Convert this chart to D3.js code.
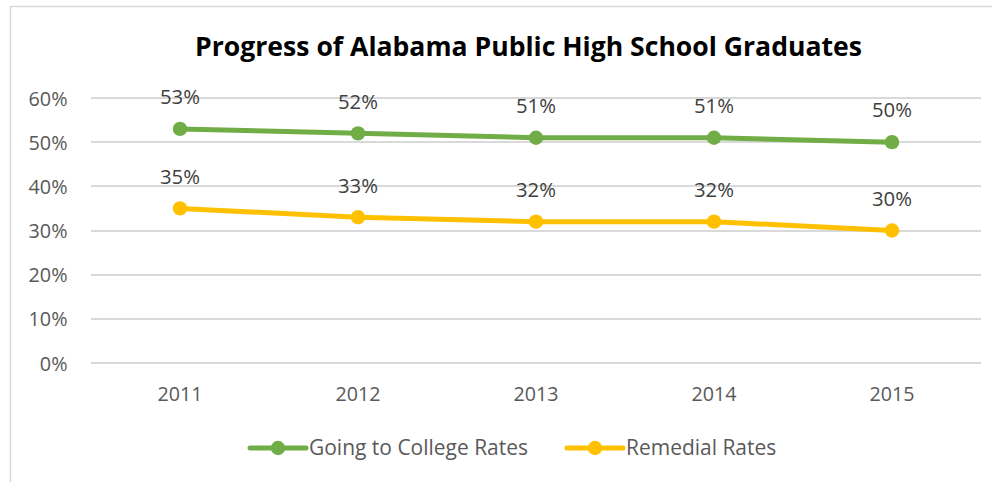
<!DOCTYPE html>
<html>
<head>
<meta charset="utf-8">
<script src="https://cdn.jsdelivr.net/npm/d3@7"></script>
<style>
  html, body { margin: 0; padding: 0; background: #fff; }
  svg { display: block; font-family: "Open Sans", Lato, sans-serif; }
</style>
</head>
<body>
<svg id="chart" width="992" height="482"></svg>
<script>
const title = "Progress of Alabama Public High School Graduates";
const years = ["2011", "2012", "2013", "2014", "2015"];
const seriesNames = ["Going to College Rates", "Remedial Rates"];
const collegeRates = [53, 52, 51, 51, 50];
const remedialRates = [35, 33, 32, 32, 30];
const yTicks = [0, 10, 20, 30, 40, 50, 60];
const colors = ["#70ad47", "#ffc000"];

const series = [
  { name: seriesNames[0], values: collegeRates, color: colors[0] },
  { name: seriesNames[1], values: remedialRates, color: colors[1] }
];

const svg = d3.select("#chart");
const W = 992, H = 482;

// scale a text selection's font size so that its first node has the target width
function fit(sel, target) {
  const n = sel.node();
  const fs = parseFloat(getComputedStyle(n).fontSize);
  const w = n.getComputedTextLength();
  sel.style("font-size", (fs * target / w).toFixed(2) + "px");
}

// chart border (only left & top visible in reference)
svg.append("rect").attr("x", 10.5).attr("y", 6.5).attr("width", W + 20).attr("height", H + 20)
  .attr("fill", "#fff").attr("stroke", "#d9d9d9").attr("stroke-width", 1.5);

const plot = { left: 91, right: 981, top: 98, bottom: 363 };

const x = d3.scaleBand().domain(years).range([plot.left, plot.right]);
const y = d3.scaleLinear().domain([0, 60]).range([plot.bottom, plot.top]);
const cx = i => x(years[i]) + x.bandwidth() / 2;

// gridlines
svg.append("g").selectAll("line").data(yTicks).join("line")
  .attr("x1", plot.left).attr("x2", plot.right)
  .attr("y1", d => Math.round(y(d))).attr("y2", d => Math.round(y(d)))
  .attr("stroke", "#d9d9d9").attr("stroke-width", 2);

// y axis
const yAxis = svg.append("g").attr("transform", `translate(67.5,0)`)
  .call(d3.axisLeft(y).tickValues(yTicks).tickFormat(d => d + "%").tickSize(0).tickPadding(0));
yAxis.select(".domain").remove();
yAxis.selectAll("text").attr("fill", "#595959").attr("x", 0).attr("dy", null).attr("y", 7)
  .style("font-family", "'Open Sans', sans-serif").style("font-size", "20px");
fit(yAxis.selectAll("text").filter(d => d === 60), 39);
yAxis.selectAll("text").style("font-size", yAxis.selectAll("text").filter(d => d === 60).style("font-size"));

// x axis
const xAxis = svg.append("g").attr("transform", `translate(0,${plot.bottom})`)
  .call(d3.axisBottom(x).tickSize(0).tickPadding(0));
xAxis.select(".domain").remove();
xAxis.selectAll("text").attr("fill", "#595959").attr("dy", null).attr("y", 37.7)
  .style("font-family", "'Open Sans', sans-serif").style("font-size", "20px");
fit(xAxis.selectAll("text").filter((d, i) => i === 0), 45);
xAxis.selectAll("text").style("font-size", xAxis.selectAll("text").filter((d, i) => i === 0).style("font-size"));

// title
const titleText = svg.append("text").attr("x", 528.5).attr("y", 56)
  .attr("text-anchor", "middle").attr("fill", "#000")
  .style("font-size", "26px").style("font-weight", "bold").text(title);
fit(titleText, 667);

const line = d3.line().x((d, i) => cx(i)).y(d => y(d));

series.forEach(s => {
  const g = svg.append("g");
  g.append("path").datum(s.values).attr("d", line)
    .attr("fill", "none").attr("stroke", s.color).attr("stroke-width", 5)
    .attr("stroke-linejoin", "round").attr("stroke-linecap", "round");
  g.selectAll("circle").data(s.values).join("circle")
    .attr("cx", (d, i) => cx(i)).attr("cy", d => y(d))
    .attr("r", 7.2).attr("fill", s.color);
  const labels = g.selectAll("text").data(s.values).join("text")
    .attr("x", (d, i) => cx(i)).attr("y", d => y(d) - 24.7)
    .attr("text-anchor", "middle").attr("fill", "#404040")
    .style("font-size", "20px").text(d => d + "%");
  fit(labels.filter((d, i) => i === 0), 40);
  labels.style("font-size", labels.filter((d, i) => i === 0).style("font-size"));
});

// legend
const legendItems = [
  { s: series[0], x0: 250 },
  { s: series[1], x0: 567 }
];
const ly = 448;
let legendSize = null;
legendItems.forEach(({ s, x0 }, k) => {
  const g = svg.append("g");
  g.append("line").attr("x1", x0).attr("x2", x0 + 56).attr("y1", ly).attr("y2", ly)
    .attr("stroke", s.color).attr("stroke-width", 5).attr("stroke-linecap", "round");
  g.append("circle").attr("cx", x0 + 28).attr("cy", ly).attr("r", 7.2).attr("fill", s.color);
  const t = g.append("text").attr("x", x0 + 59).attr("y", ly + 7)
    .attr("fill", "#595959").style("font-size", "20px").text(s.name);
  if (k === 0) { fit(t, 219); legendSize = t.style("font-size"); }
  else t.style("font-size", legendSize);
});
</script>
</body>
</html>
